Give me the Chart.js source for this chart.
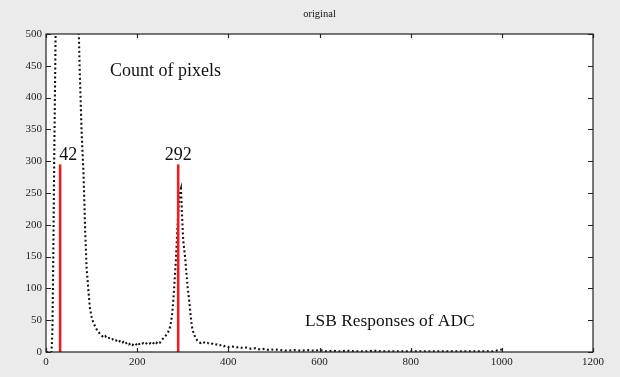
<!DOCTYPE html>
<html>
<head>
<meta charset="utf-8">
<script src="https://cdn.jsdelivr.net/npm/chart.js@4.4.1/dist/chart.umd.min.js"></script>
<style>
  html, body { margin: 0; padding: 0; background: #ebebeb; }
  #wrap { width: 620px; height: 377px; }
</style>
</head>
<body>
<div id="wrap"><canvas id="chart" width="620" height="377"></canvas></div>
<script>
// ---------------------------------------------------------
// Histogram of ADC LSB responses ("original")
// ---------------------------------------------------------

const X_TICKS = [0, 200, 400, 600, 800, 1000, 1200];
const Y_TICKS = [0, 50, 100, 150, 200, 250, 300, 350, 400, 450, 500];

// pixel counts per ADC code (first peak is clipped above 500)
const countX = [0, 4, 8, 12, 14, 16, 18, 20, 22, 26, 40, 60, 70, 72, 74, 76, 78, 80, 82, 84, 86, 89, 93, 96, 100,
  104, 108, 113, 118, 122, 126, 130, 134, 138, 142, 146, 150, 154, 158, 162, 166, 170, 174, 178, 182, 186, 190,
  194, 198, 202, 206, 210, 214, 218, 222, 226, 230, 234, 238, 242, 246, 250, 254, 258, 262, 266, 270, 273, 276,
  279, 282, 285, 288, 291, 294, 296, 298, 301, 305, 308, 311, 314, 317, 320, 324, 328, 332, 336, 340, 345, 350,
  355, 360, 365, 370, 375, 380, 385, 390, 395, 400, 408, 416, 424, 432, 440, 450, 460, 470, 480, 490, 500, 515,
  530, 545, 560, 575, 590, 600, 615, 630, 645, 660, 680, 700, 720, 740, 760, 780, 800, 830, 860, 890, 920, 950,
  980, 1000, 1008];
const countY = [0, 0, 0, 0, 30, 150, 300, 430, 560, 1200, 2500, 1200, 540, 500, 440, 395, 348, 315, 286, 240, 190,
  134, 97, 71, 55, 46, 40, 33, 29, 26, 23, 25, 21, 22, 19, 20, 17, 18, 15, 17, 14, 16, 13, 15, 12, 14, 11, 14,
  12, 15, 11, 13, 14, 12, 15, 13, 14, 12, 16, 14, 17, 15, 19, 22, 25, 29, 34, 42, 55, 78, 110, 145, 190, 232,
  252, 257, 222, 176, 150, 124, 100, 82, 60, 40, 29, 22, 18, 15, 14, 16, 13, 14, 12, 13, 11, 12, 10, 11, 9, 10,
  8, 9, 7, 8, 6, 7, 5, 6, 4, 5, 3, 4, 3, 2, 3, 2, 3, 2, 3, 1, 2, 1, 2, 1, 1, 2, 1, 1, 1, 1, 1, 1, 1, 1, 1,
  1, 4];

// red markers for the two peaks
const markerX = [31, 290];
const markerTop = [295, 295];
const markerLabels = ["42", "292"];

const SERIF = "'Liberation Serif', 'Times New Roman', serif";

const countData = countX.map((x, i) => ({ x: x, y: countY[i] }));

const markerSets = markerX.map((x, i) => ({
  label: "marker " + markerLabels[i],
  data: [{ x: x, y: 0 }, { x: x, y: markerTop[i] }],
  showLine: true,
  borderColor: "#ee1c24",
  borderWidth: 2.6,
  pointRadius: 0,
  order: 0
}));

// background, frame, inward ticks and free text
const decorPlugin = {
  id: "decor",
  beforeDraw(chart) {
    const { ctx, chartArea: a } = chart;
    ctx.save();
    ctx.fillStyle = "#ebebeb";
    ctx.fillRect(0, 0, chart.width, chart.height);
    ctx.fillStyle = "#ffffff";
    ctx.fillRect(a.left, a.top, a.right - a.left, a.bottom - a.top);
    ctx.restore();
  },
  afterDraw(chart) {
    const { ctx, chartArea: a, scales } = chart;
    ctx.save();
    ctx.strokeStyle = "#222";
    ctx.lineWidth = 1.2;
    ctx.strokeRect(a.left, a.top, a.right - a.left, a.bottom - a.top);

    ctx.lineWidth = 1.2;
    ctx.beginPath();
    X_TICKS.forEach(v => {
      const px = Math.round(scales.x.getPixelForValue(v)) + 0.5;
      ctx.moveTo(px, a.bottom); ctx.lineTo(px, a.bottom - 4);
      ctx.moveTo(px, a.top); ctx.lineTo(px, a.top + 4);
    });
    Y_TICKS.forEach(v => {
      const py = Math.round(scales.y.getPixelForValue(v)) + 0.5;
      ctx.moveTo(a.left, py); ctx.lineTo(a.left + 5, py);
      ctx.moveTo(a.right, py); ctx.lineTo(a.right - 5, py);
    });
    ctx.stroke();

    // title
    ctx.fillStyle = "#111";
    ctx.textAlign = "center";
    ctx.textBaseline = "alphabetic";
    ctx.font = "10.5px " + SERIF;
    ctx.fillText("original", (a.left + a.right) / 2, 17);

    // peak labels
    ctx.font = "18px " + SERIF;
    markerX.forEach((x, i) => {
      const px = scales.x.getPixelForValue(x);
      const py = scales.y.getPixelForValue(markerTop[i]) - 4;
      if (i === 0) {
        ctx.textAlign = "left";
        ctx.fillText(markerLabels[i], px - 1, py);
      } else {
        ctx.textAlign = "center";
        ctx.fillText(markerLabels[i], px, py);
      }
    });

    // annotations
    ctx.textAlign = "left";
    ctx.font = "18px " + SERIF;
    ctx.fillText("Count of pixels", 110, 76);
    ctx.font = "17.4px " + SERIF;
    ctx.fillText("LSB Responses of ADC", 305, 326);
    ctx.restore();
  }
};

new Chart(document.getElementById("chart"), {
  type: "scatter",
  data: {
    datasets: [
      {
        label: "Count of pixels",
        data: countData,
        showLine: true,
        borderColor: "#111",
        borderWidth: 2.1,
        borderDash: [1.9, 2.6],
        borderCapStyle: "butt",
        pointRadius: 0,
        tension: 0,
        order: 1
      },
      ...markerSets
    ]
  },
  options: {
    responsive: false,
    animation: false,
    layout: { padding: { left: 0, right: 27, top: 34, bottom: 0 } },
    plugins: {
      legend: { display: false },
      title: { display: false },
      tooltip: { enabled: false }
    },
    scales: {
      x: {
        type: "linear",
        min: 0,
        max: 1200,
        afterFit: s => { s.height = 25; },
        afterBuildTicks: s => { s.ticks = X_TICKS.map(v => ({ value: v })); },
        grid: { display: false, drawTicks: false },
        border: { display: false },
        ticks: { color: "#222", padding: 4, maxRotation: 0, callback: v => String(v), font: { family: SERIF, size: 11 } }
      },
      y: {
        type: "linear",
        min: 0,
        max: 500,
        afterFit: s => { s.width = 46; },
        afterBuildTicks: s => { s.ticks = Y_TICKS.map(v => ({ value: v })); },
        grid: { display: false, drawTicks: false },
        border: { display: false },
        ticks: { color: "#222", padding: 4, callback: v => String(v), font: { family: SERIF, size: 11 } }
      }
    }
  },
  plugins: [decorPlugin]
});
</script>
</body>
</html>
